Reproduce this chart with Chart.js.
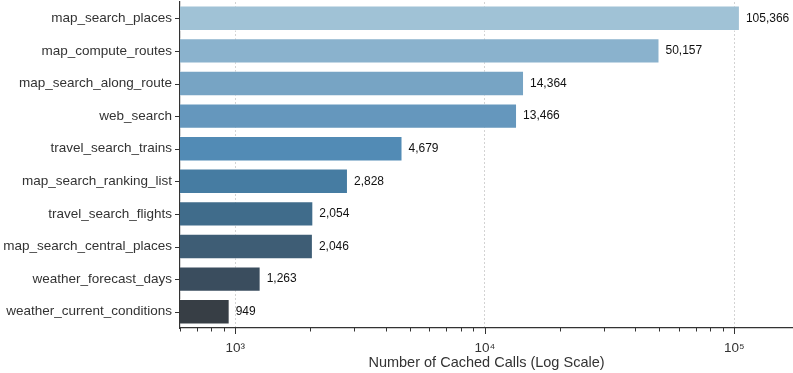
<!DOCTYPE html>
<html>
    <head>
        <title>Cached calls</title>
        <meta charset="utf-8">
        <script src="https://cdn.jsdelivr.net/npm/chart.js"></script>
        <style>
            body { margin: 0; background: #fff; }
            canvas { display: block; }
        </style>
    </head>
    <body>
        <canvas id="cacheChart" width="793" height="373"></canvas>
        <script>
            const tools = [
                'map_search_places',
                'map_compute_routes',
                'map_search_along_route',
                'web_search',
                'travel_search_trains',
                'map_search_ranking_list',
                'travel_search_flights',
                'map_search_central_places',
                'weather_forecast_days',
                'weather_current_conditions'
            ];
            const cachedCalls = [105366, 50157, 14364, 13466, 4679, 2828, 2054, 2046, 1263, 949];
            const barColors = [
                '#a0c2d6', '#8ab2cd', '#77a4c4', '#6597bd', '#528bb5',
                '#467ca2', '#406c8b', '#3e5d75', '#3a4d5e', '#373e45'
            ];
            const axisMin = 600;
            const axisMax = 172000;

            const supers = { '0': '⁰', '1': '¹', '2': '²', '3': '³', '4': '⁴', '5': '⁵', '6': '⁶' };
            const isPow10 = v => Math.abs(Math.log10(v) - Math.round(Math.log10(v))) < 1e-9;
            const isNice = v => {
                const s = v / Math.pow(10, Math.floor(Math.log10(v) + 1e-9));
                return Math.abs(s - Math.round(s)) < 1e-6;
            };

            // tick marks + value labels
            const decorations = {
                id: 'decorations',
                afterDraw(chart) {
                    const ctx = chart.ctx;
                    const x = chart.scales.x;
                    const y = chart.scales.y;
                    ctx.save();
                    ctx.strokeStyle = '#333';
                    ctx.lineWidth = 1;
                    x.ticks.forEach(t => {
                        if (!isNice(t.value)) return;
                        const px = Math.round(x.getPixelForValue(t.value)) + 0.5;
                        const len = isPow10(t.value) ? 6 : 3.5;
                        ctx.beginPath();
                        ctx.moveTo(px, x.top);
                        ctx.lineTo(px, x.top + len);
                        ctx.stroke();
                    });
                    y.ticks.forEach((t, i) => {
                        const py = Math.round(y.getPixelForTick(i)) + 0.5;
                        ctx.beginPath();
                        ctx.moveTo(y.right - 5, py);
                        ctx.lineTo(y.right, py);
                        ctx.stroke();
                    });
                    ctx.fillStyle = '#111';
                    ctx.font = '12px "Liberation Sans", Arial, sans-serif';
                    ctx.textBaseline = 'middle';
                    ctx.textAlign = 'left';
                    chart.getDatasetMeta(0).data.forEach((bar, i) => {
                        ctx.fillText(cachedCalls[i].toLocaleString('en-US'), bar.x + 6, bar.y);
                    });
                    ctx.restore();
                }
            };

            new Chart(document.getElementById('cacheChart'), {
                type: 'bar',
                data: {
                    labels: tools,
                    datasets: [{
                        data: cachedCalls,
                        backgroundColor: barColors,
                        borderColor: 'rgba(255, 255, 255, 0.55)',
                        borderWidth: 1,
                        barPercentage: 0.78,
                        categoryPercentage: 1.0
                    }]
                },
                options: {
                    indexAxis: 'y',
                    responsive: false,
                    animation: false,
                    layout: { padding: { top: 2, right: 0, left: 0, bottom: 0 } },
                    plugins: {
                        legend: { display: false },
                        tooltip: { enabled: false }
                    },
                    scales: {
                        x: {
                            type: 'logarithmic',
                            min: axisMin,
                            max: axisMax,
                            grid: {
                                drawTicks: false,
                                color: ctx => (ctx.tick && isPow10(ctx.tick.value)) ? '#c8c8c8' : 'rgba(0,0,0,0)',
                                lineWidth: 0.8
                            },
                            border: { color: '#333', width: 1.2, dash: [2, 2] },
                            ticks: {
                                autoSkip: false,
                                maxRotation: 0,
                                padding: 12,
                                color: '#333',
                                font: { family: '"Liberation Sans", Arial, sans-serif', size: 13.5 },
                                callback: v => isPow10(v) ? '10' + String(Math.round(Math.log10(v))).split('').map(c => supers[c]).join('') : ''
                            },
                            title: {
                                display: true,
                                text: 'Number of Cached Calls (Log Scale)',
                                color: '#333',
                                font: { family: '"Liberation Sans", Arial, sans-serif', size: 14.5 },
                                padding: { top: 0, bottom: 1 }
                            },
                            afterFit: s => {
                                s.height = 45;
                                s.paddingLeft = 0;
                                s.paddingRight = 0;
                            }
                        },
                        y: {
                            grid: { display: false, drawTicks: false },
                            border: { color: '#333', width: 1.2 },
                            ticks: {
                                padding: 8,
                                color: '#333',
                                font: { family: '"Liberation Sans", Arial, sans-serif', size: 13.5 }
                            },
                            afterFit: s => {
                                s.width = 180;
                                s.paddingTop = 0;
                                s.paddingBottom = 0;
                            }
                        }
                    }
                },
                plugins: [decorations]
            });
        </script>
    </body>
</html>
